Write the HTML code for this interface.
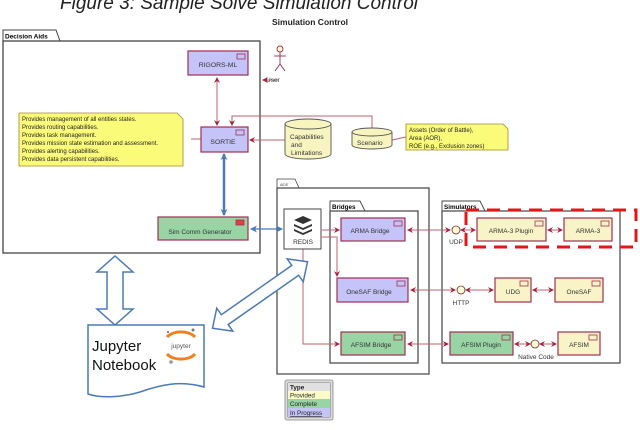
<!DOCTYPE html>
<html><head><meta charset="utf-8"><style>
html,body{margin:0;padding:0;background:#fff;}
svg{display:block;font-family:"Liberation Sans",sans-serif;}
</style></head><body>
<svg width="640" height="430" viewBox="0 0 640 430" xmlns="http://www.w3.org/2000/svg">
<defs>
<marker id="a" markerWidth="6" markerHeight="6" refX="5" refY="3" orient="auto-start-reverse" markerUnits="userSpaceOnUse"><path d="M0,0 L6,3 L0,6 L2,3 Z" fill="#a8203c"/></marker>
<marker id="b" markerWidth="7" markerHeight="7" refX="6" refY="3.5" orient="auto-start-reverse" markerUnits="userSpaceOnUse"><path d="M0,0 L7,3.5 L0,7 L2,3.5 Z" fill="#4a7ab8"/></marker>
</defs>
<text x="60" y="9" font-size="19" font-style="italic" fill="#222">Figure 3: Sample Solve Simulation Control</text>
<text x="272" y="25" font-size="8.5" font-weight="bold" fill="#222">Simulation Control</text>

<!-- Decision Aids -->
<path d="M3,41 V30 H56 L60,41" fill="#fff" stroke="#444" stroke-width="1"/>
<text x="5" y="38.5" font-size="6.5" font-weight="bold">Decision Aids</text>
<rect x="3" y="41" width="257" height="212" fill="#fff" stroke="#444" stroke-width="1.3"/>

<!-- AIDE -->
<path d="M277,188 V179 H295 L299,188" fill="#fff" stroke="#444" stroke-width="0.8"/>
<text x="280" y="186" font-size="3.5" fill="#444">AIDE</text>
<rect x="277" y="188" width="152" height="186" fill="#fff" stroke="#444" stroke-width="1.2"/>
<!-- Bridges -->
<path d="M330,211 V201 H360 L365,211" fill="#fff" stroke="#444" stroke-width="0.9"/>
<text x="332" y="209" font-size="6.3" font-weight="bold">Bridges</text>
<rect x="330" y="211" width="88" height="152" fill="#fff" stroke="#444" stroke-width="1.2"/>
<!-- Simulators -->
<path d="M442,211 V201 H480 L485,211" fill="#fff" stroke="#444" stroke-width="0.9"/>
<text x="444" y="209" font-size="6.3" font-weight="bold">Simulators</text>
<rect x="442" y="211" width="178" height="152" fill="#fff" stroke="#444" stroke-width="1.2"/>

<!-- lines -->
<g stroke="#c06070" stroke-width="1" fill="none">
<line x1="217" y1="78" x2="217" y2="125" marker-start="url(#a)" marker-end="url(#a)"/>
<line x1="278" y1="80" x2="263" y2="80" marker-end="url(#a)"/>
<path d="M372,128 V116 H232 V125" marker-end="url(#a)"/>
<line x1="285" y1="140" x2="250" y2="140" marker-end="url(#a)"/>
<line x1="191" y1="139" x2="201" y2="139"/>
<line x1="392" y1="140" x2="406" y2="137"/>
<line x1="322" y1="230" x2="339" y2="230" marker-end="url(#a)"/>
<path d="M322,237 H337 V276" marker-end="url(#a)"/>
<path d="M303,249 V344 H339" marker-end="url(#a)"/>
<line x1="408" y1="230" x2="450" y2="230" marker-start="url(#a)" marker-end="url(#a)"/>
<line x1="461" y1="230" x2="475" y2="230" marker-start="url(#a)" marker-end="url(#a)"/>
<line x1="548" y1="230" x2="562" y2="230" marker-start="url(#a)" marker-end="url(#a)"/>
<line x1="411" y1="290" x2="455" y2="290" marker-start="url(#a)" marker-end="url(#a)"/>
<line x1="466" y1="290" x2="493" y2="290" marker-start="url(#a)" marker-end="url(#a)"/>
<line x1="533" y1="290" x2="553" y2="290" marker-start="url(#a)" marker-end="url(#a)"/>
<line x1="408" y1="344" x2="448" y2="344" marker-start="url(#a)" marker-end="url(#a)"/>
<line x1="515" y1="344" x2="530" y2="344" marker-start="url(#a)" marker-end="url(#a)"/>
<line x1="540" y1="344" x2="556" y2="344" marker-start="url(#a)" marker-end="url(#a)"/>
</g>

<!-- RIGORS -->
<rect x="188" y="51" width="60" height="24" fill="#c4c4f8" stroke="#a03050" stroke-width="1.2"/>
<rect x="237" y="54" width="8" height="5" fill="#c4c4f8" stroke="#a03050" stroke-width="0.8"/>
<text x="218" y="67" font-size="6.8" text-anchor="middle" fill="#333">RIGORS-ML</text>
<!-- user -->
<g stroke="#a03050" fill="none" stroke-width="0.9">
<circle cx="280" cy="49" r="3" fill="#fff8d0"/>
<line x1="280" y1="52" x2="280" y2="64"/><line x1="274" y1="56" x2="286" y2="56"/>
<line x1="280" y1="64" x2="275" y2="71"/><line x1="280" y1="64" x2="285" y2="71"/>
</g>
<text x="266" y="82" font-size="6.5" fill="#333">User</text>

<!-- note -->
<path d="M19,113 H177 L183,119 V166 H19 Z" fill="#fbfb7a" stroke="#a08a30" stroke-width="0.8"/>
<g font-size="6" fill="#222">
<text x="22" y="121">Provides management of all entities states.</text>
<text x="22" y="129">Provides routing capabilities.</text>
<text x="22" y="137">Provides task management.</text>
<text x="22" y="145">Provides mission state estimation and assessment.</text>
<text x="22" y="153">Provides alerting capabilities.</text>
<text x="22" y="161">Provides data persistent capabilities.</text>
</g>
<!-- SORTIE -->
<rect x="201" y="127" width="47" height="25" fill="#c4c4f8" stroke="#a03050" stroke-width="1.2"/>
<rect x="236" y="130" width="8" height="5" fill="#c4c4f8" stroke="#a03050" stroke-width="0.8"/>
<text x="223" y="144" font-size="6.8" text-anchor="middle" fill="#333">SORTIE</text>

<!-- cylinders -->
<path d="M285,124 V154 A23,5 0 0 0 331,154 V124" fill="#f8f4c0" stroke="#555" stroke-width="0.9"/>
<ellipse cx="308" cy="124" rx="23" ry="5" fill="#f8f4c0" stroke="#555" stroke-width="0.9"/>
<g font-size="6.5" fill="#333"><text x="290" y="139">Capabilities</text><text x="291" y="147">and</text><text x="291" y="155">Limitations</text></g>
<path d="M352,132 V145 A20,4 0 0 0 392,145 V132" fill="#f8f4c0" stroke="#555" stroke-width="0.9"/>
<ellipse cx="372" cy="132" rx="20" ry="4" fill="#f8f4c0" stroke="#555" stroke-width="0.9"/>
<text x="357" y="145" font-size="6.5" fill="#333">Scenario</text>
<path d="M406,124 H503 L508,129 V150 H406 Z" fill="#fbfb7a" stroke="#a08a30" stroke-width="0.8"/>
<g font-size="6" fill="#222"><text x="409" y="132">Assets (Order of Battle),</text><text x="409" y="140">Area (AOR),</text><text x="409" y="148">ROE (e.g., Exclusion zones)</text></g>

<!-- Sim comm -->
<rect x="158" y="217" width="90" height="23" fill="#98d4a4" stroke="#a03050" stroke-width="1.2"/>
<rect x="236" y="220" width="8" height="5" fill="#e04040" stroke="#a03050" stroke-width="0.8"/>
<text x="200" y="234" font-size="6.5" text-anchor="middle" fill="#333">Sim Comm Generator</text>
<line x1="224" y1="154" x2="224" y2="215" stroke="#4a7ab8" stroke-width="2.5" marker-start="url(#b)" marker-end="url(#b)"/>
<line x1="251" y1="229" x2="282" y2="229" stroke="#4a7ab8" stroke-width="1.3" marker-start="url(#b)" marker-end="url(#b)"/>

<!-- REDIS -->
<rect x="284" y="209" width="37" height="40" fill="#fff" stroke="#444" stroke-width="1"/>
<g fill="#333">
<path d="M294,220 L303,216 L312,220 L303,224 Z"/>
<path d="M294,224 L303,228 L312,224 V226 L303,230 L294,226 Z"/>
<path d="M294,229 L303,233 L312,229 V231 L303,235 L294,231 Z"/>
</g>
<text x="303" y="244" font-size="6.5" text-anchor="middle" fill="#333">REDIS</text>

<rect x="341" y="218" width="64" height="23" fill="#c4c4f8" stroke="#a03050" stroke-width="1.2"/>
<rect x="394" y="221" width="8" height="5" fill="#c4c4f8" stroke="#a03050" stroke-width="0.8"/>
<text x="370" y="233" font-size="6.5" text-anchor="middle" fill="#333">ARMA Bridge</text>
<rect x="337" y="278" width="71" height="24" fill="#c4c4f8" stroke="#a03050" stroke-width="1.2"/>
<rect x="397" y="281" width="8" height="5" fill="#c4c4f8" stroke="#a03050" stroke-width="0.8"/>
<text x="369" y="294" font-size="6.5" text-anchor="middle" fill="#333">OneSAF Bridge</text>
<rect x="341" y="332" width="64" height="23" fill="#98d4a4" stroke="#a03050" stroke-width="1.2"/>
<rect x="394" y="335" width="8" height="5" fill="#98d4a4" stroke="#a03050" stroke-width="0.8"/>
<text x="371" y="347" font-size="6.5" text-anchor="middle" fill="#333">AFSIM Bridge</text>

<g fill="#f8f4c8" stroke="#a03050" stroke-width="1.2">
<rect x="477" y="218" width="69" height="23"/><rect x="564" y="218" width="48" height="23"/>
<rect x="495" y="278" width="36" height="24"/><rect x="555" y="278" width="48" height="24"/>
<rect x="558" y="332" width="42" height="23"/>
</g>
<rect x="450" y="332" width="63" height="23" fill="#98d4a4" stroke="#a03050" stroke-width="1.2"/>
<g fill="none" stroke="#a03050" stroke-width="0.8">
<rect x="535" y="221" width="8" height="5"/><rect x="601" y="221" width="8" height="5"/>
<rect x="520" y="281" width="8" height="5"/><rect x="592" y="281" width="8" height="5"/>
<rect x="502" y="335" width="8" height="5"/><rect x="589" y="335" width="8" height="5"/>
</g>
<g font-size="6.5" fill="#333" text-anchor="middle">
<text x="511" y="233">ARMA-3 Plugin</text><text x="588" y="233">ARMA-3</text>
<text x="513" y="294">UDG</text><text x="579" y="294">OneSAF</text>
<text x="481" y="347">AFSIM Plugin</text><text x="579" y="347">AFSIM</text>
<text x="456" y="244">UDP</text><text x="461" y="305">HTTP</text><text x="536" y="359">Native Code</text>
</g>
<g fill="#fff8d0" stroke="#6a3030" stroke-width="0.8">
<circle cx="456" cy="230" r="4"/><circle cx="461" cy="290" r="4"/><circle cx="535" cy="344" r="4"/>
</g>
<rect x="466" y="210" width="170" height="37" fill="none" stroke="#e01818" stroke-width="3" stroke-dasharray="13,8"/>

<!-- legend -->
<rect x="285" y="380" width="48" height="40" rx="2" fill="#ddd" stroke="#888" stroke-width="0.8"/>
<rect x="288" y="383" width="42" height="34" fill="#fff" stroke="#333" stroke-width="0.6"/>
<rect x="288" y="383" width="42" height="8" fill="#e0e0e0"/>
<rect x="288" y="391" width="42" height="8" fill="#fcfcc8"/>
<rect x="288" y="399" width="42" height="9" fill="#98d4a4"/>
<rect x="288" y="408" width="42" height="9" fill="#c4c4f8"/>
<g font-size="6.3" fill="#222"><text x="290" y="389.5" font-weight="bold">Type</text><text x="290" y="397.5">Provided</text><text x="290" y="406">Complete</text><text x="290" y="415" text-decoration="underline">In Progress</text></g>

<!-- blue block arrows -->
<path d="M115,256 L133,272 H123 V309 H133 L115,325 L97,309 H107 V272 H97 Z" fill="#fff" stroke="#4a7ab8" stroke-width="1.5"/>
<g transform="translate(260,295) rotate(-35)">
<path d="M-58,0 L-43,-14 V-6 H43 V-14 L58,0 L43,14 V6 H-43 V14 Z" fill="#fff" stroke="#4a7ab8" stroke-width="1.5"/>
</g>
<!-- jupyter doc -->
<path d="M88,325 H204 V387 C180,380 160,385 140,392 C120,398 100,398 88,394 Z" fill="#fff" stroke="#4a7ab8" stroke-width="1.5"/>
<text x="92" y="351" font-size="15" fill="#111">Jupyter</text>
<text x="92" y="370" font-size="15" fill="#111">Notebook</text>
<path d="M167,337 A16,10 0 0 1 195,337" fill="none" stroke="#f08020" stroke-width="3"/>
<path d="M167,354 A16,10 0 0 0 195,354" fill="none" stroke="#f08020" stroke-width="3"/>
<text x="181" y="348" font-size="6.5" text-anchor="middle" fill="#555">jupyter</text>
<circle cx="168" cy="332" r="1" fill="#666"/><circle cx="193" cy="330" r="1.5" fill="#777"/><circle cx="171" cy="362" r="1.8" fill="#999"/>
</svg>
</body></html>
